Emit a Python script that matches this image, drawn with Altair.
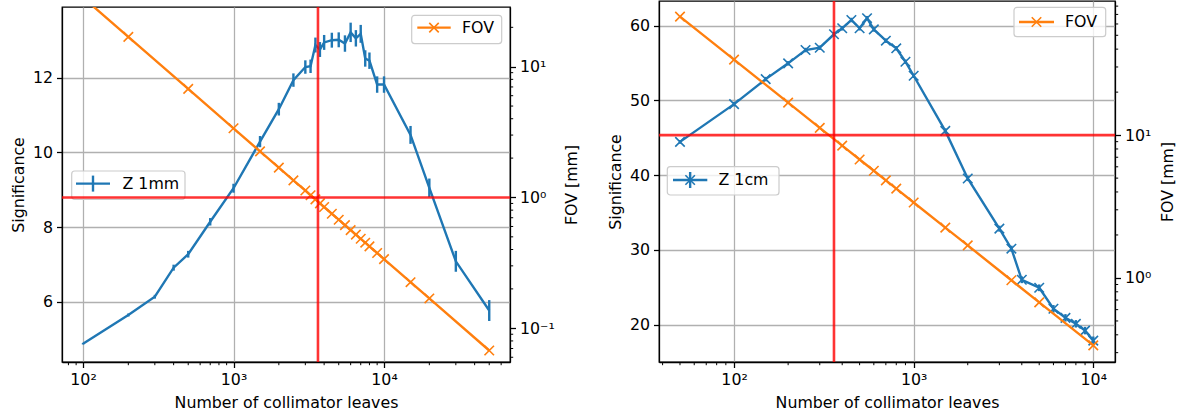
import altair as alt
import pandas as pd

FONT = "DejaVu Sans"
FS = 15.8
BLUE = "#1f77b4"
ORANGE = "#ff7f0e"
RED = "#ff0000"
X_PATH = "M-1,-1L1,1M-1,1L1,-1"

# ---------------- data: left panel (Z 1mm) ----------------
n_1mm = [100, 200, 300, 400, 500, 700, 1000, 1500, 2000, 2500,
         3000, 3250, 3500, 3750, 4000, 4500, 5000, 5500, 6000, 6500,
         7000, 7500, 8000, 9000, 10000, 15000, 20000, 30000, 50000]
z_1mm = [4.87, 5.64, 6.13, 6.91, 7.27, 8.14, 9.04, 10.29, 11.16, 11.94,
         12.29, 12.31, 12.88, 12.76, 12.95, 13.01, 13.02, 12.92, 13.22, 13.06,
         13.18, 12.52, 12.46, 11.82, 11.82, 10.47, 9.05, 7.08, 5.76]
z_1mm_err = [0.02, 0.04, 0.05, 0.08, 0.09, 0.1, 0.12, 0.15, 0.17, 0.18,
             0.18, 0.18, 0.2, 0.2, 0.2, 0.2, 0.2, 0.22, 0.26, 0.22,
             0.24, 0.22, 0.22, 0.22, 0.22, 0.24, 0.25, 0.28, 0.28]
n_fov_1mm = [100, 200, 500, 1000, 1500, 2000, 2500, 3000, 3250, 3500, 3750, 4000,
             4500, 5000, 5500, 6000, 6500, 7000, 7500, 8000, 9000, 10000,
             15000, 20000, 50000]
fov_1mm = [33.8, 16.9, 6.76, 3.38, 2.25, 1.69, 1.35, 1.13, 1.04, 0.966, 0.901, 0.845,
           0.751, 0.676, 0.615, 0.563, 0.520, 0.483, 0.451, 0.423, 0.376, 0.338,
           0.225, 0.169, 0.0676]
vline_1mm = [3640]
hline_1mm = [1.0]

# ---------------- data: right panel (Z 1cm) ----------------
n_1cm = [50, 100, 150, 200, 250, 300, 360, 400, 450, 500,
         550, 600, 700, 800, 900, 1000, 1500, 2000, 3000, 3500,
         4000, 5000, 6000, 7000, 8000, 9000, 10000]
z_1cm = [44.45, 49.5, 52.85, 54.96, 56.74, 57.05, 58.85, 59.65, 60.76, 59.65,
         61.0, 59.5, 57.99, 56.97, 55.17, 53.3, 45.92, 39.55, 32.84, 30.16,
         26.0, 24.93, 22.12, 20.91, 20.11, 19.2, 17.86]
z_1cm_err = [0.25, 0.3, 0.3, 0.3, 0.3, 0.3, 0.3, 0.3, 0.3, 0.3,
             0.3, 0.3, 0.3, 0.3, 0.3, 0.3, 0.35, 0.35, 0.4, 0.4,
             0.45, 0.45, 0.5, 0.5, 0.5, 0.5, 0.55]
n_fov_1cm = [50, 100, 200, 300, 400, 500, 600, 700, 800, 1000, 1500, 2000, 3500, 5000, 10000]
fov_1cm = [67.5, 33.75, 16.9, 11.25, 8.44, 6.75, 5.63, 4.82, 4.22, 3.375, 2.25, 1.69,
           0.964, 0.675, 0.3375]
vline_1cm = [360]
hline_1cm = [10.0]

# ---------------- axes: ticks & labels ----------------
x_ticks = [100, 1000, 10000]
x_tick_labels = ["10²", "10³", "10⁴"]
sig_ticks_1mm = [6, 8, 10, 12]
sig_ticks_1cm = [20, 30, 40, 50, 60]
fov_ticks_1mm = [0.1, 1, 10]
fov_tick_labels_1mm = ["10⁻¹", "10⁰", "10¹"]
fov_ticks_1cm = [1, 10]
fov_tick_labels_1cm = ["10⁰", "10¹"]
x_minor_1mm = [80, 90, 200, 300, 400, 500, 600, 700, 800, 900,
               2000, 3000, 4000, 5000, 6000, 7000, 8000, 9000,
               20000, 30000, 40000, 50000, 60000]
fov_minor_1mm = [0.06, 0.07, 0.08, 0.09, 0.2, 0.3, 0.4, 0.5, 0.6, 0.7, 0.8, 0.9,
                 2, 3, 4, 5, 6, 7, 8, 9, 20]
x_minor_1cm = [40, 50, 60, 70, 80, 90, 200, 300, 400, 500, 600, 700, 800, 900,
               2000, 3000, 4000, 5000, 6000, 7000, 8000, 9000]
fov_minor_1cm = [0.3, 0.4, 0.5, 0.6, 0.7, 0.8, 0.9, 2, 3, 4, 5, 6, 7, 8, 9,
                 20, 30, 40, 50, 60, 70, 80]

x_title = "Number of collimator leaves"
sig_title = "Significance"
fov_title = "FOV [mm]"
legend_z_1mm = "Z 1mm"
legend_z_1cm = "Z 1cm"
legend_fov = "FOV"


def label_expr(values, labels):
    expr = "''"
    for v, l in reversed(list(zip(values, labels))):
        expr = f"(abs(datum.value - {v}) < {v} * 1e-6) ? '{l}' : ({expr})"
    return expr


def x_enc(domain):
    return alt.X("N:Q",
                 scale=alt.Scale(type="log", domain=domain, nice=False),
                 axis=alt.Axis(values=x_ticks, labelExpr=label_expr(x_ticks, x_tick_labels),
                               title=x_title, grid=True, orient="bottom",
                               labelPadding=4.5, titlePadding=9,
                               labelFlush=False, labelOverlap=False))


def sig_enc(field, domain, ticks):
    return alt.Y(f"{field}:Q",
                 scale=alt.Scale(domain=domain, nice=False, zero=False),
                 axis=alt.Axis(values=ticks, title=sig_title, grid=True, orient="left",
                               labelPadding=4, titlePadding=6, format="d",
                               labelFlush=False))


def fov_enc(domain, ticks, labels):
    return alt.Y("fov:Q",
                 scale=alt.Scale(type="log", domain=domain, nice=False),
                 axis=alt.Axis(values=ticks, labelExpr=label_expr(ticks, labels),
                               title=fov_title, grid=False, orient="right",
                               labelPadding=4, titlePadding=10,
                               titleAngle=270, titleBaseline="top",
                               labelFlush=False, labelOverlap=False))


def legend(label, box, line_x, line_y, text_x, color, marker=False, err=False):
    base = alt.Chart(pd.DataFrame({"label": [label]}))
    layers = [
        base.mark_rect(fill="white", fillOpacity=0.8, stroke="#cccccc", strokeWidth=1.2,
                       cornerRadius=3).encode(
            x=alt.value(box[0]), x2=alt.value(box[1]),
            y=alt.value(box[2]), y2=alt.value(box[3])),
        base.mark_rule(color=color, strokeWidth=2.4).encode(
            x=alt.value(line_x[0]), x2=alt.value(line_x[1]), y=alt.value(line_y)),
    ]
    cx = (line_x[0] + line_x[1]) / 2
    if err:
        layers.append(base.mark_rule(color=color, strokeWidth=2.4).encode(
            x=alt.value(cx), y=alt.value(line_y - 8), y2=alt.value(line_y + 8)))
    if marker:
        layers.append(base.mark_point(shape=X_PATH, filled=False, size=90, strokeWidth=1.6,
                                      color=color, opacity=1).encode(
            x=alt.value(cx), y=alt.value(line_y)))
    layers.append(base.mark_text(align="left", baseline="middle", font=FONT, fontSize=FS,
                                 color="black").encode(
        x=alt.value(text_x), y=alt.value(line_y), text="label:N"))
    return layers


def panel(n, z, zerr, nf, fov, vline, hline, x_dom, sig_dom, sig_ticks, fov_dom, fov_ticks,
          fov_labels, x_minor, fov_minor, W, H, z_label, z_markers, leg_z, leg_f):
    X = x_enc(x_dom)
    df_z = pd.DataFrame({"N": n, "sig": z,
                         "lo": [a - b for a, b in zip(z, zerr)],
                         "hi": [a + b for a, b in zip(z, zerr)]})
    df_f = pd.DataFrame({"N": nf, "fov": fov})
    YS = sig_enc("sig", sig_dom, sig_ticks)
    YF = fov_enc(fov_dom, fov_ticks, fov_labels)

    bz = alt.Chart(df_z)
    a_layers = [
        bz.mark_line(color=BLUE, strokeWidth=2.4, clip=True).encode(x=X, y=YS),
        bz.mark_rule(color=BLUE, strokeWidth=2.4, clip=True).encode(
            x=X, y=sig_enc("lo", sig_dom, sig_ticks), y2=alt.Y2("hi:Q")),
    ]
    if z_markers:
        a_layers.append(bz.mark_point(shape=X_PATH, filled=False, size=90, strokeWidth=1.6,
                                      color=BLUE, opacity=1, clip=True).encode(x=X, y=YS))
    a_layers.append(alt.Chart(pd.DataFrame({"N": x_minor})).mark_rule(
        color="black", strokeWidth=1.0).encode(x=X, y=alt.value(H), y2=alt.value(H + 3.2)))
    a_layers += legend(z_label, *leg_z, color=BLUE, marker=z_markers, err=True)
    group_a = alt.layer(*a_layers)

    bf = alt.Chart(df_f)
    b_layers = [
        bf.mark_line(color=ORANGE, strokeWidth=2.4, clip=True).encode(x=X, y=YF),
        bf.mark_point(shape=X_PATH, filled=False, size=90, strokeWidth=1.6, color=ORANGE,
                      opacity=1, clip=True).encode(x=X, y=YF),
        alt.Chart(pd.DataFrame({"fov": fov_minor})).mark_rule(
            color="black", strokeWidth=1.0).encode(y=YF, x=alt.value(W), x2=alt.value(W + 3.2)),
        alt.Chart(pd.DataFrame({"fov": hline})).mark_rule(
            color=RED, opacity=0.8, strokeWidth=2.6).encode(y=YF),
        alt.Chart(pd.DataFrame({"N": vline})).mark_rule(
            color=RED, opacity=0.8, strokeWidth=2.6, clip=True).encode(x=X),
    ]
    b_layers += legend(legend_fov, *leg_f, color=ORANGE, marker=True, err=False)
    group_b = alt.layer(*b_layers)
    return alt.layer(group_a, group_b).resolve_scale(y="independent").properties(width=W, height=H)


W1, H1 = 448, 355
W2, H2 = 456, 361
GAP = 149  # gap between the two plot areas

left_panel = panel(n_1mm, z_1mm, z_1mm_err, n_fov_1mm, fov_1mm, vline_1mm, hline_1mm,
                   [72.5, 68700], [4.38, 13.9], sig_ticks_1mm, [0.0552, 28.6],
                   fov_ticks_1mm, fov_tick_labels_1mm, x_minor_1mm, fov_minor_1mm,
                   W1, H1, legend_z_1mm, False,
                   leg_z=((9.7, 123, 164, 192.3), (14, 48), 176.6, 60.5),
                   leg_f=((349.7, 439.7, 8.3, 36.6), (355.3, 388.7), 20.6, 400))

# invisible spacer that lowers the left panel's plot area a little
spacer = alt.Chart(pd.DataFrame({"label": [""]})).mark_point(opacity=0, size=1).encode(
    x=alt.value(5), y=alt.value(3)
).properties(width=10, height=H2 - H1, view=alt.ViewBackground(stroke="transparent"))

left = alt.vconcat(spacer, left_panel, spacing=0, bounds="flush")

right = panel(n_1cm, z_1cm, z_1cm_err, n_fov_1cm, fov_1cm, vline_1cm, hline_1cm,
              [38.2, 13210], [15.0, 63.3], sig_ticks_1cm, [0.258, 86.9],
              fov_ticks_1cm, fov_tick_labels_1cm, x_minor_1cm, fov_minor_1cm,
              W2, H2, legend_z_1cm, True,
              leg_z=((8.3, 120, 165.7, 194), (14, 48.3), 179, 59.5),
              leg_f=((355, 446.7, 6.3, 35.7), (360, 395), 21, 406))

# the nested (vconcat) group has no width of its own in a flush layout, so the
# spacing spans the left plot width plus the gap
chart = alt.hconcat(left, right, spacing=W1 + GAP, bounds="flush").properties(
    padding={"left": 9, "top": 0, "right": 5, "bottom": 0}
).configure_view(stroke="black", strokeWidth=1.27).configure_axis(
    labelFont=FONT, labelFontSize=FS, labelColor="black",
    titleFont=FONT, titleFontSize=FS, titleFontWeight="normal", titleColor="black",
    domainColor="black", domainWidth=1.27, tickColor="black", tickWidth=1.27, tickSize=5.5,
    gridColor="#b0b0b0", gridWidth=1.27
).configure_text(font=FONT)

chart.save("out.html", embed_options={"renderer": "svg", "actions": False})
